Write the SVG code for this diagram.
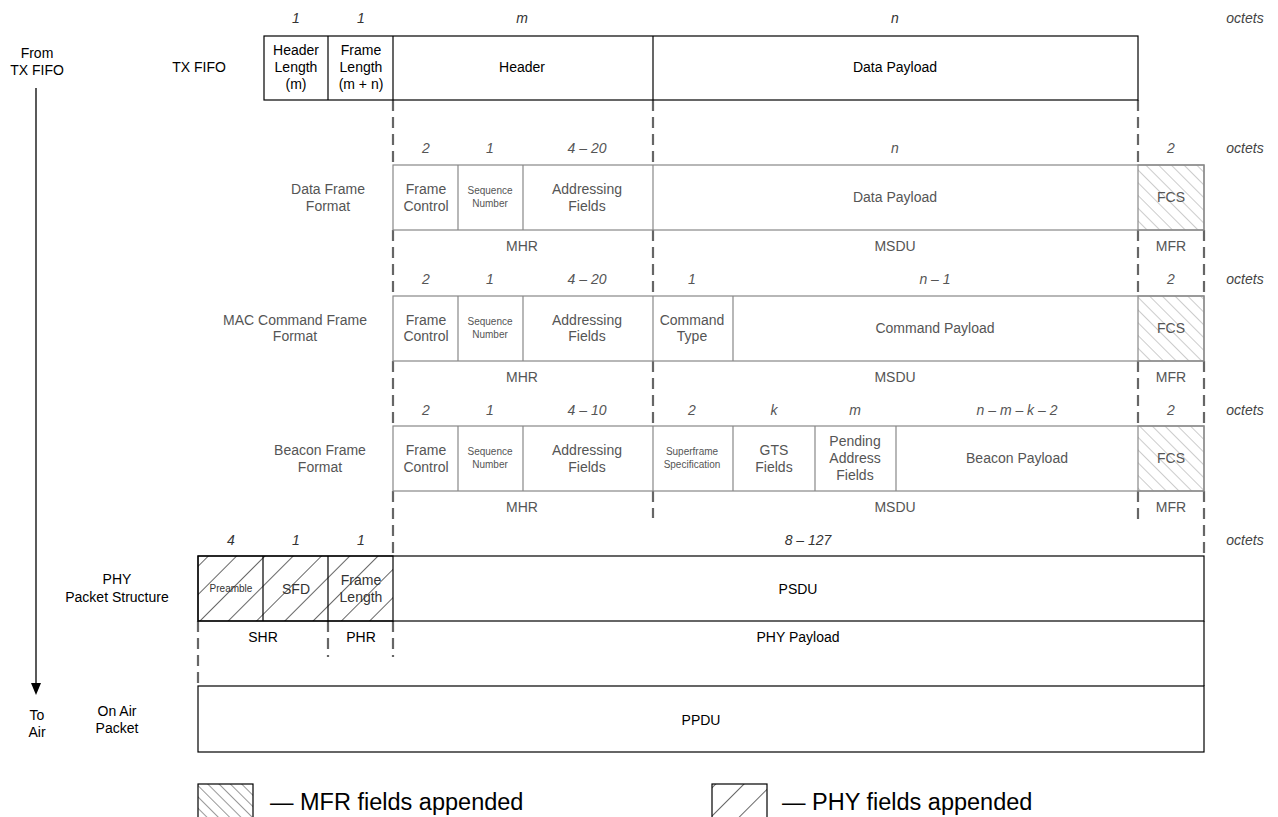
<svg xmlns="http://www.w3.org/2000/svg" width="1278" height="817" viewBox="0 0 1278 817">
<style>
text{font-family:"Liberation Sans",Arial,sans-serif;text-anchor:middle}
.t{font-size:14px;fill:#000}
.g{font-size:14px;fill:#555}
.s{font-size:10px;fill:#555}
.n{font-size:14px;font-style:italic;fill:#333}
.ng{font-size:14px;font-style:italic;fill:#555}
.oc{font-size:14px;font-style:italic;fill:#444}
.lg{font-size:23.5px;fill:#000;text-anchor:start}
.bk{fill:#fff;stroke:#000;stroke-width:1.2}
.gr{fill:#fff;stroke:#888;stroke-width:1.2}
.dl{fill:none;stroke:#000;stroke-width:1.2}
.gl{fill:none;stroke:#888;stroke-width:1.2}
.dash{fill:none;stroke:#666;stroke-width:2.2;stroke-dasharray:11,6}
</style>
<defs>
<pattern id="mfr" patternUnits="userSpaceOnUse" width="9" height="9" patternTransform="rotate(-45)">
<line x1="0" y1="0" x2="0" y2="9" stroke="#999" stroke-width="1"/>
</pattern>
<pattern id="mfrl" patternUnits="userSpaceOnUse" width="8" height="8" patternTransform="rotate(-45)">
<line x1="0" y1="0" x2="0" y2="8" stroke="#333" stroke-width="1"/>
</pattern>
<pattern id="phy" patternUnits="userSpaceOnUse" width="20" height="20" patternTransform="rotate(45)">
<line x1="0" y1="0" x2="0" y2="20" stroke="#000" stroke-width="1.2"/>
</pattern>
</defs>

<g id="side-labels">
<text class="t" x="37" y="58">From</text>
<text class="t" x="37" y="75">TX FIFO</text>
<text class="t" x="37" y="720">To</text>
<text class="t" x="37" y="737">Air</text>
</g>

<g id="connectors">
<line x1="36" y1="88" x2="36" y2="684" stroke="#000" stroke-width="1.3"/>
<polygon points="31,683 41,683 36,695" fill="#000"/>
<line class="dash" x1="393" y1="100" x2="393" y2="165"/>
<line class="dash" x1="653" y1="100" x2="653" y2="165"/>
<line class="dash" x1="1138" y1="100" x2="1138" y2="165"/>
<line class="dash" x1="393" y1="230" x2="393" y2="296"/>
<line class="dash" x1="653" y1="230" x2="653" y2="296"/>
<line class="dash" x1="1138" y1="230" x2="1138" y2="296"/>
<line class="dash" x1="1204" y1="230" x2="1204" y2="296"/>
<line class="dash" x1="393" y1="361" x2="393" y2="426"/>
<line class="dash" x1="653" y1="361" x2="653" y2="426"/>
<line class="dash" x1="1138" y1="361" x2="1138" y2="426"/>
<line class="dash" x1="1204" y1="361" x2="1204" y2="426"/>
<line class="dash" x1="393" y1="491" x2="393" y2="556"/>
<line class="dash" x1="653" y1="491" x2="653" y2="518"/>
<line class="dash" x1="1138" y1="491" x2="1138" y2="525"/>
<line class="dash" x1="1204" y1="491" x2="1204" y2="556"/>
<line class="dash" x1="198" y1="621" x2="198" y2="686"/>
<line class="dash" x1="328" y1="621" x2="328" y2="657"/>
<line class="dash" x1="393" y1="621" x2="393" y2="657"/>
<line class="dl" x1="1204" y1="621" x2="1204" y2="686"/>
</g>

<g id="txfifo">
<text class="t" x="199" y="72">TX FIFO</text>
<text class="n" x="296" y="23">1</text>
<text class="n" x="361" y="23">1</text>
<text class="n" x="522" y="23">m</text>
<text class="n" x="895" y="23">n</text>
<text class="oc" x="1245" y="23">octets</text>
<rect class="bk" x="264" y="36" width="874" height="64"/>
<line class="dl" x1="328" y1="36" x2="328" y2="100"/>
<line class="dl" x1="393" y1="36" x2="393" y2="100"/>
<line class="dl" x1="653" y1="36" x2="653" y2="100"/>
<text class="t" x="296" y="55">Header</text>
<text class="t" x="296" y="72">Length</text>
<text class="t" x="296" y="89">(m)</text>
<text class="t" x="361" y="55">Frame</text>
<text class="t" x="361" y="72">Length</text>
<text class="t" x="361" y="89">(m + n)</text>
<text class="t" x="522" y="72">Header</text>
<text class="t" x="895" y="72">Data Payload</text>
</g>

<g id="dataframe">
<text class="g" x="328" y="194">Data Frame</text>
<text class="g" x="328" y="211">Format</text>
<text class="ng" x="426" y="153">2</text>
<text class="ng" x="490" y="153">1</text>
<text class="ng" x="587" y="153">4 – 20</text>
<text class="ng" x="895" y="153">n</text>
<text class="ng" x="1171" y="153">2</text>
<text class="oc" x="1245" y="153">octets</text>
<rect class="gr" x="393" y="165" width="811" height="65"/>
<rect x="1138" y="165" width="66" height="65" fill="url(#mfr)" stroke="#888" stroke-width="1.2"/>
<line class="gl" x1="458" y1="165" x2="458" y2="230"/>
<line class="gl" x1="523" y1="165" x2="523" y2="230"/>
<line class="gl" x1="653" y1="165" x2="653" y2="230"/>
<text class="g" x="426" y="194">Frame</text>
<text class="g" x="426" y="211">Control</text>
<text class="s" x="490" y="194">Sequence</text>
<text class="s" x="490" y="207">Number</text>
<text class="g" x="587" y="194">Addressing</text>
<text class="g" x="587" y="211">Fields</text>
<text class="g" x="895" y="202">Data Payload</text>
<text class="g" x="1171" y="202">FCS</text>
<text class="g" x="522" y="251">MHR</text>
<text class="g" x="895" y="251">MSDU</text>
<text class="g" x="1171" y="251">MFR</text>
</g>

<g id="macframe">
<text class="g" x="295" y="325">MAC Command Frame</text>
<text class="g" x="295" y="341">Format</text>
<text class="ng" x="426" y="284">2</text>
<text class="ng" x="490" y="284">1</text>
<text class="ng" x="587" y="284">4 – 20</text>
<text class="ng" x="692" y="284">1</text>
<text class="ng" x="935" y="284">n – 1</text>
<text class="ng" x="1171" y="284">2</text>
<text class="oc" x="1245" y="284">octets</text>
<rect class="gr" x="393" y="296" width="811" height="65"/>
<rect x="1138" y="296" width="66" height="65" fill="url(#mfr)" stroke="#888" stroke-width="1.2"/>
<line class="gl" x1="458" y1="296" x2="458" y2="361"/>
<line class="gl" x1="523" y1="296" x2="523" y2="361"/>
<line class="gl" x1="653" y1="296" x2="653" y2="361"/>
<line class="gl" x1="733" y1="296" x2="733" y2="361"/>
<text class="g" x="426" y="325">Frame</text>
<text class="g" x="426" y="341">Control</text>
<text class="s" x="490" y="325">Sequence</text>
<text class="s" x="490" y="338">Number</text>
<text class="g" x="587" y="325">Addressing</text>
<text class="g" x="587" y="341">Fields</text>
<text class="g" x="692" y="325">Command</text>
<text class="g" x="692" y="341">Type</text>
<text class="g" x="935" y="333">Command Payload</text>
<text class="g" x="1171" y="333">FCS</text>
<text class="g" x="522" y="382">MHR</text>
<text class="g" x="895" y="382">MSDU</text>
<text class="g" x="1171" y="382">MFR</text>
</g>

<g id="beaconframe">
<text class="g" x="320" y="455">Beacon Frame</text>
<text class="g" x="320" y="472">Format</text>
<text class="ng" x="426" y="415">2</text>
<text class="ng" x="490" y="415">1</text>
<text class="ng" x="587" y="415">4 – 10</text>
<text class="ng" x="692" y="415">2</text>
<text class="ng" x="774" y="415">k</text>
<text class="ng" x="855" y="415">m</text>
<text class="ng" x="1017" y="415">n – m – k – 2</text>
<text class="ng" x="1171" y="415">2</text>
<text class="oc" x="1245" y="415">octets</text>
<rect class="gr" x="393" y="426" width="811" height="65"/>
<rect x="1138" y="426" width="66" height="65" fill="url(#mfr)" stroke="#888" stroke-width="1.2"/>
<line class="gl" x1="458" y1="426" x2="458" y2="491"/>
<line class="gl" x1="523" y1="426" x2="523" y2="491"/>
<line class="gl" x1="653" y1="426" x2="653" y2="491"/>
<line class="gl" x1="733" y1="426" x2="733" y2="491"/>
<line class="gl" x1="815" y1="426" x2="815" y2="491"/>
<line class="gl" x1="896" y1="426" x2="896" y2="491"/>
<text class="g" x="426" y="455">Frame</text>
<text class="g" x="426" y="472">Control</text>
<text class="s" x="490" y="455">Sequence</text>
<text class="s" x="490" y="468">Number</text>
<text class="g" x="587" y="455">Addressing</text>
<text class="g" x="587" y="472">Fields</text>
<text class="s" x="692" y="455">Superframe</text>
<text class="s" x="692" y="468">Specification</text>
<text class="g" x="774" y="455">GTS</text>
<text class="g" x="774" y="472">Fields</text>
<text class="g" x="855" y="446">Pending</text>
<text class="g" x="855" y="463">Address</text>
<text class="g" x="855" y="480">Fields</text>
<text class="g" x="1017" y="463">Beacon Payload</text>
<text class="g" x="1171" y="463">FCS</text>
<text class="g" x="522" y="512">MHR</text>
<text class="g" x="895" y="512">MSDU</text>
<text class="g" x="1171" y="512">MFR</text>
</g>

<g id="phy">
<text class="t" x="117" y="584">PHY</text>
<text class="t" x="117" y="602">Packet Structure</text>
<text class="n" x="231" y="545">4</text>
<text class="n" x="296" y="545">1</text>
<text class="n" x="361" y="545">1</text>
<text class="n" x="808" y="545">8 – 127</text>
<text class="oc" x="1245" y="545">octets</text>
<rect class="bk" x="198" y="556" width="1006" height="65"/>
<rect x="198" y="556" width="195" height="65" fill="url(#phy)" stroke="#000" stroke-width="1.2"/>
<line class="dl" x1="263" y1="556" x2="263" y2="621"/>
<line class="dl" x1="328" y1="556" x2="328" y2="621"/>
<text style="font-size:10px;fill:#333" x="231" y="592">Preamble</text>
<text class="t" x="296" y="594" style="fill:#333">SFD</text>
<text class="t" x="361" y="585" style="fill:#333">Frame</text>
<text class="t" x="361" y="602" style="fill:#333">Length</text>
<text class="t" x="798" y="594">PSDU</text>
<text class="t" x="263" y="642">SHR</text>
<text class="t" x="361" y="642">PHR</text>
<text class="t" x="798" y="642">PHY Payload</text>
</g>

<g id="onair">
<text class="t" x="117" y="716">On Air</text>
<text class="t" x="117" y="733">Packet</text>
<rect class="bk" x="198" y="686" width="1006" height="66"/>
<text class="t" x="701" y="725">PPDU</text>
</g>

<g id="legend">
<rect x="198" y="784" width="55" height="40" fill="url(#mfrl)" stroke="#000" stroke-width="1.2"/>
<text class="lg" x="270" y="810">— MFR fields appended</text>
<rect x="712" y="784" width="55" height="40" fill="url(#phy)" stroke="#000" stroke-width="1.2"/>
<text class="lg" x="782" y="810">— PHY fields appended</text>
</g>
</svg>
